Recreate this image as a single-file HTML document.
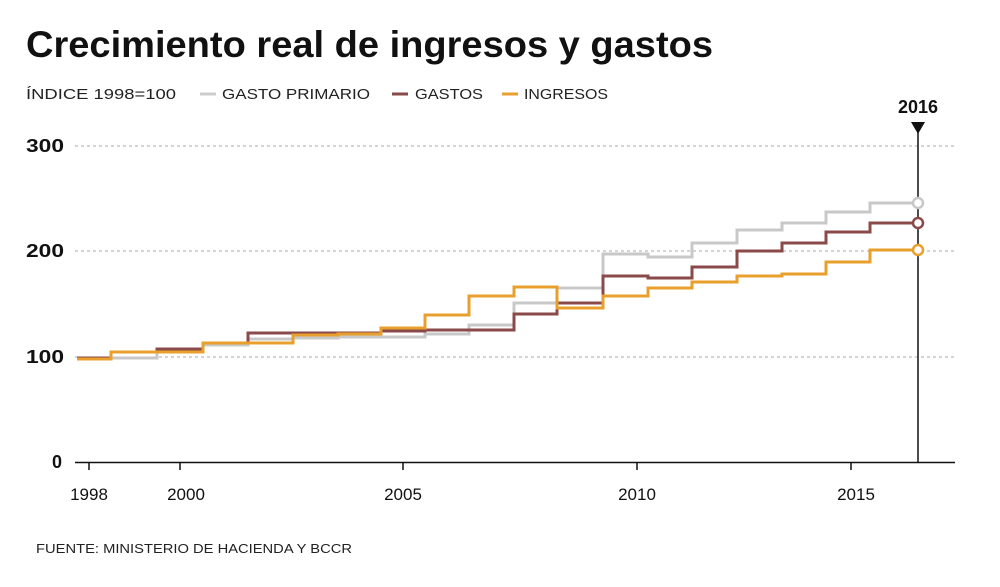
<!DOCTYPE html>
<html><head><meta charset="utf-8"><style>
body{margin:0;background:#fff;width:1000px;height:582px;overflow:hidden;font-family:"Liberation Sans",sans-serif}
</style></head><body>
<svg width="1000" height="582" xmlns="http://www.w3.org/2000/svg" font-family="Liberation Sans, sans-serif">
<text x="26" y="57" font-size="37" font-weight="bold" fill="#111" textLength="687" lengthAdjust="spacingAndGlyphs">Crecimiento real de ingresos y gastos</text>
<text x="26" y="99" font-size="15" fill="#222" textLength="150" lengthAdjust="spacingAndGlyphs">ÍNDICE 1998=100</text>
<line x1="200" y1="94" x2="216" y2="94" stroke="#ccc" stroke-width="3"/>
<text x="222" y="99" font-size="15" fill="#222" textLength="148" lengthAdjust="spacingAndGlyphs">GASTO PRIMARIO</text>
<line x1="392" y1="94" x2="408" y2="94" stroke="#8a4a4a" stroke-width="3"/>
<text x="415" y="99" font-size="15" fill="#222" textLength="68" lengthAdjust="spacingAndGlyphs">GASTOS</text>
<line x1="502" y1="94" x2="518" y2="94" stroke="#e8a030" stroke-width="3"/>
<text x="524" y="99" font-size="15" fill="#222" textLength="84" lengthAdjust="spacingAndGlyphs">INGRESOS</text>
<g stroke="#aaa" stroke-dasharray="3,3" stroke-width="1">
<line x1="75" y1="146" x2="955" y2="146"/><line x1="75" y1="251" x2="955" y2="251"/><line x1="75" y1="357" x2="955" y2="357"/>
</g>
<g font-size="18" font-weight="bold" fill="#111">
<text x="26" y="152" textLength="38" lengthAdjust="spacingAndGlyphs">300</text><text x="26" y="257" textLength="38" lengthAdjust="spacingAndGlyphs">200</text><text x="26" y="363" textLength="38" lengthAdjust="spacingAndGlyphs">100</text><text x="52" y="468">0</text>
</g>
<line x1="75" y1="462.5" x2="955" y2="462.5" stroke="#111" stroke-width="1.5"/>
<g stroke="#111" stroke-width="1.5">
<line x1="89" y1="462" x2="89" y2="470"/><line x1="180" y1="462" x2="180" y2="470"/><line x1="403" y1="462" x2="403" y2="470"/><line x1="637" y1="462" x2="637" y2="470"/><line x1="851" y1="462" x2="851" y2="470"/>
</g>
<g font-size="17" fill="#111" text-anchor="middle">
<text x="89" y="500">1998</text><text x="186" y="500">2000</text><text x="403" y="500">2005</text><text x="637" y="500">2010</text><text x="856" y="500">2015</text>
</g>
<line x1="918" y1="125" x2="918" y2="462" stroke="#111" stroke-width="1.5"/>
<polygon points="911,122 925,122 918,134" fill="#111"/>
<text x="918" y="113" font-size="18" font-weight="bold" text-anchor="middle" fill="#111">2016</text>
<g fill="none" stroke-width="3">
<path stroke="#c8c8c8" d="M77 359H111V358H157V352H203V345H248V339H293V338H338V337H381V337H425V334H469V325H514V303H557V288H603V254H648V257H692V243H737V230H782V223H826V212H870V203H918"/>
<path stroke="#8a4a4a" d="M77 358H111V352H157V349H203V343H248V333H293V333H338V333H381V331H425V330H469V330H514V314H557V303H603V276H648V278H692V267H737V251H782V243H826V232H870V223H918"/>
<path stroke="#e89f2c" d="M77 359H111V352H157V352H203V343H248V343H293V335H338V334H381V328H425V315H469V296H514V287H557V308H603V296H648V288H692V282H737V276H782V274H826V262H870V250H918"/>
</g>
<circle cx="918" cy="203" r="5" fill="#fff" stroke="#c8c8c8" stroke-width="2.5"/>
<circle cx="918" cy="223" r="5" fill="#fff" stroke="#8a4a4a" stroke-width="2.5"/>
<circle cx="918" cy="250" r="5" fill="#fff" stroke="#e89f2c" stroke-width="2.5"/>
<text x="36" y="553" font-size="13" fill="#222" textLength="316" lengthAdjust="spacingAndGlyphs">FUENTE: MINISTERIO DE HACIENDA Y BCCR</text>
</svg>
</body></html>
